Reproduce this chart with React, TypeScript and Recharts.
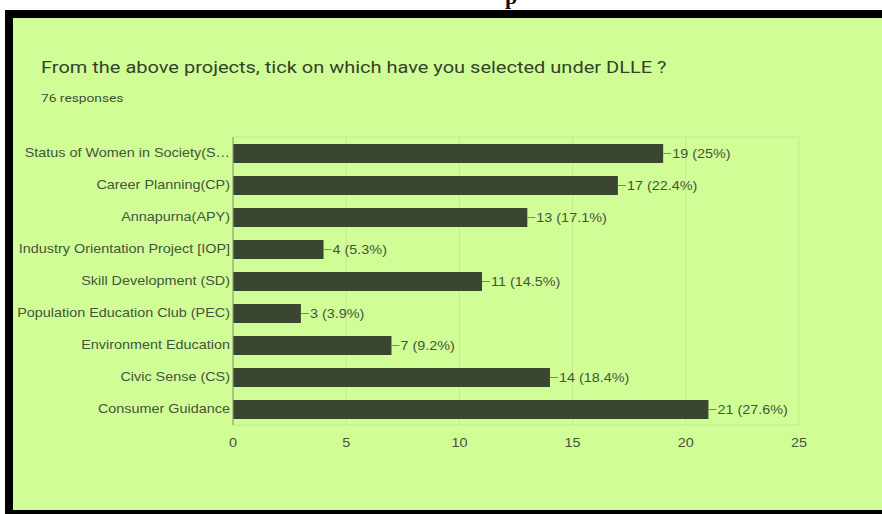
import React from 'react';
import { BarChart, Bar, XAxis, YAxis, CartesianGrid, LabelList } from 'recharts';

const categories = [
  'Status of Women in Society(S…',
  'Career Planning(CP)',
  'Annapurna(APY)',
  'Industry Orientation Project [IOP]',
  'Skill Development (SD)',
  'Population Education Club (PEC)',
  'Environment Education',
  'Civic Sense (CS)',
  'Consumer Guidance',
];
const counts = [19, 17, 13, 4, 11, 3, 7, 14, 21];
const percents = ['25', '22.4', '17.1', '5.3', '14.5', '3.9', '9.2', '18.4', '27.6'];
const xTicks = [0, 5, 10, 15, 20, 25];

const titleText = 'From the above projects, tick on which have you selected under DLLE ?';
const subtitleText = '76 responses';

const data = categories.map((name, i) => ({
  name,
  count: counts[i],
  label: `${counts[i]} (${percents[i]}%)`,
}));

const TEXT = '#44553a';
const FONT = '"Liberation Sans", Arial, sans-serif';

const XTick = (props: any) => {
  const { x, y, payload } = props;
  return (
    <g transform={`translate(${x},${y})`}>
      <text transform="scale(1.2,1)" textAnchor="middle" dy="0.71em" fontSize={12} fontFamily={FONT} fill={TEXT}>
        {payload.value}
      </text>
    </g>
  );
};

const YTick = (props: any) => {
  const { x, y, payload } = props;
  return (
    <g transform={`translate(${x},${y})`}>
      <text transform="scale(1.2,1)" textAnchor="end" dy="0.355em" fontSize={12} fontFamily={FONT} fill={TEXT}>
        {payload.value}
      </text>
    </g>
  );
};

const BarLabel = (props: any) => {
  const { x, y, width, height, value } = props;
  const ex = Number(x) + Number(width);
  const cy = Number(y) + Number(height) / 2;
  return (
    <g>
      <line x1={ex} y1={cy} x2={ex + 8} y2={cy} stroke="#7d8c6c" strokeWidth={1} />
      <g transform={`translate(${ex + 9},${cy})`}>
        <text transform="scale(1.2,1)" dy="0.355em" fontSize={12} fontFamily={FONT} fill={TEXT}>
          {value}
        </text>
      </g>
    </g>
  );
};

export default function App() {
  return (
    <div style={{ position: 'fixed', left: 0, top: 0, width: 882, height: 514, background: '#ffffff', overflow: 'hidden' }}>
      <div style={{ position: 'absolute', left: 505, top: -16, height: 26, overflow: 'hidden' }}>
        <span style={{ fontFamily: '"Liberation Serif", serif', fontWeight: 'bold', fontSize: 22, color: '#111' }}>p</span>
      </div>
      <div style={{ position: 'absolute', left: 5, top: 10, width: 877, height: 504, background: '#000000' }} />
      <div style={{ position: 'absolute', left: 13, top: 18, width: 869, height: 492, background: '#d1fd97' }} />
      <div
        style={{
          position: 'absolute',
          left: 41,
          top: 58,
          fontFamily: 'Roboto, sans-serif',
          fontSize: 16,
          color: '#33422a',
          whiteSpace: 'nowrap',
          transform: 'scaleX(1.25)',
          transformOrigin: 'left top',
        }}
      >
        {titleText}
      </div>
      <div
        style={{
          position: 'absolute',
          left: 41,
          top: 92,
          fontFamily: 'Roboto, sans-serif',
          fontSize: 11,
          color: '#3f4f35',
          whiteSpace: 'nowrap',
          transform: 'scaleX(1.25)',
          transformOrigin: 'left top',
        }}
      >
        {subtitleText}
      </div>
      <div style={{ position: 'absolute', left: 0, top: 0 }}>
        <BarChart
          width={882}
          height={514}
          data={data}
          layout="vertical"
          margin={{ top: 137, right: 83, bottom: 59, left: 13 }}
        >
          <CartesianGrid
            stroke="#c2e98b"
            horizontalCoordinatesGenerator={({ offset }: any) => [offset.top, offset.top + offset.height]}
          />
          <XAxis
            type="number"
            domain={[0, 25]}
            ticks={xTicks}
            axisLine={false}
            tickLine={false}
            tickSize={0}
            tickMargin={13}
            height={30}
            tick={<XTick />}
          />
          <YAxis
            type="category"
            dataKey="name"
            width={220}
            axisLine={{ stroke: '#8a9a78' }}
            tickLine={false}
            tickSize={0}
            tickMargin={3}
            tick={<YTick />}
            interval={0}
          />
          <Bar dataKey="count" fill="#3b4630" barSize={19} isAnimationActive={false}>
            <LabelList dataKey="label" content={<BarLabel />} />
          </Bar>
        </BarChart>
      </div>
    </div>
  );
}
